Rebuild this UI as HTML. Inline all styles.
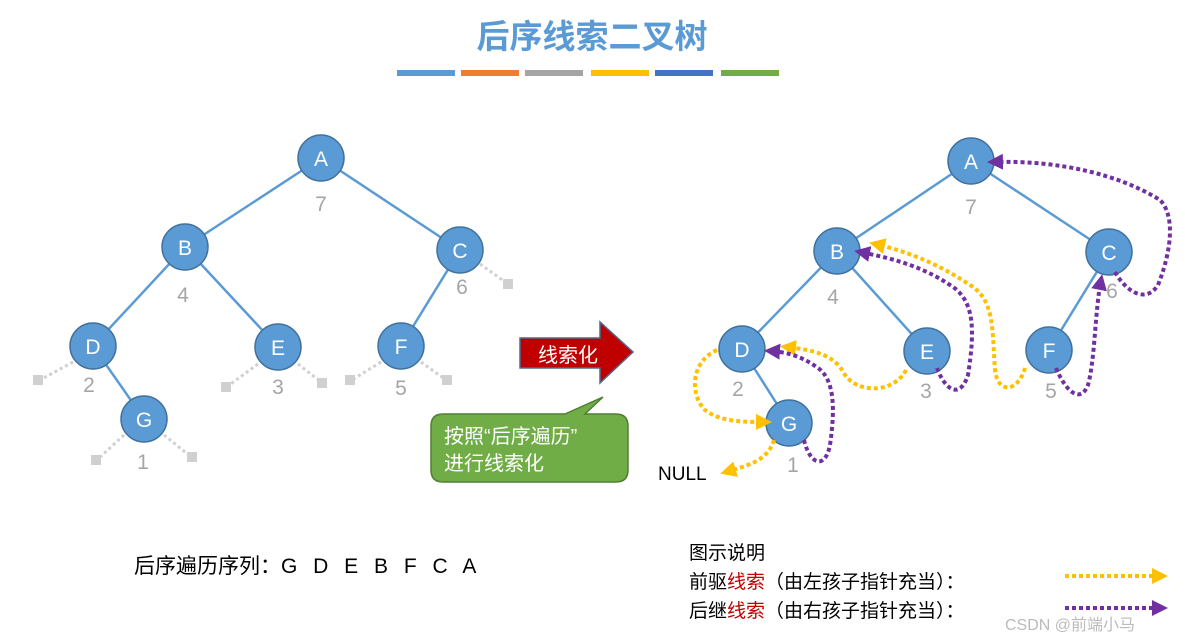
<!DOCTYPE html>
<html><head><meta charset="utf-8"><style>
body{margin:0;background:#fff;width:1185px;height:644px;overflow:hidden;font-family:"Liberation Sans","Noto Sans CJK SC",sans-serif;}
</style></head><body>
<svg width="1185" height="644" xmlns="http://www.w3.org/2000/svg" style="position:absolute;left:0;top:0">
<defs>
<marker id="py" markerWidth="4" markerHeight="4" refX="2.5" refY="2" orient="auto" markerUnits="strokeWidth"><path d="M0,0L4,2L0,4Z" fill="#FFC000"/></marker>
<marker id="pp" markerWidth="4" markerHeight="4" refX="2.5" refY="2" orient="auto" markerUnits="strokeWidth"><path d="M0,0L4,2L0,4Z" fill="#7030A0"/></marker>
</defs>
<text x="592" y="48" font-size="33" font-weight="bold" fill="#5B9BD5" text-anchor="middle" font-family="Liberation Sans,Noto Sans CJK SC,sans-serif">后序线索二叉树</text>
<g stroke-width="6">
<line x1="397" y1="73" x2="455" y2="73" stroke="#5B9BD5"/><line x1="461" y1="73" x2="519" y2="73" stroke="#ED7D31"/>
<line x1="525" y1="73" x2="583" y2="73" stroke="#A5A5A5"/><line x1="591" y1="73" x2="649" y2="73" stroke="#FFC000"/>
<line x1="655" y1="73" x2="713" y2="73" stroke="#4472C4"/><line x1="721" y1="73" x2="779" y2="73" stroke="#70AD47"/>
</g>
<g stroke="#D0D0D0" stroke-width="3" stroke-dasharray="3,3">
<line x1="480" y1="264" x2="508" y2="284"/><line x1="73" y1="362" x2="40" y2="380"/>
<line x1="258" y1="364" x2="228" y2="386"/><line x1="298" y1="364" x2="321" y2="382"/>
<line x1="381" y1="362" x2="352" y2="380"/><line x1="421" y1="362" x2="446" y2="380"/>
<line x1="124" y1="435" x2="98" y2="459"/><line x1="164" y1="435" x2="190" y2="456"/>
</g>
<g fill="#D0D0D0"><rect x="503" y="279" width="10" height="10"/><rect x="33" y="375" width="10" height="10"/><rect x="221" y="382" width="10" height="10"/><rect x="317" y="378" width="10" height="10"/><rect x="345" y="375" width="10" height="10"/><rect x="442" y="375" width="10" height="10"/><rect x="91" y="455" width="10" height="10"/><rect x="187" y="452" width="10" height="10"/></g>
<g stroke="#5B9BD5" stroke-width="2.5">
<line x1="321" y1="158" x2="185" y2="247"/><line x1="321" y1="158" x2="460" y2="250"/>
<line x1="185" y1="247" x2="93" y2="346"/><line x1="185" y1="247" x2="278" y2="347"/>
<line x1="460" y1="250" x2="401" y2="346"/><line x1="93" y1="346" x2="144" y2="419"/>
<line x1="971" y1="161" x2="837" y2="251"/><line x1="971" y1="161" x2="1109" y2="252"/>
<line x1="837" y1="251" x2="742" y2="349"/><line x1="837" y1="251" x2="927" y2="351"/>
<line x1="1109" y1="252" x2="1049" y2="350"/><line x1="742" y1="349" x2="789" y2="423"/>
</g>
<g fill="#5B9BD5" stroke="#41719C" stroke-width="1.5">
<circle cx="321" cy="158" r="23"/><circle cx="185" cy="247" r="23"/><circle cx="460" cy="250" r="23"/>
<circle cx="93" cy="346" r="23"/><circle cx="278" cy="347" r="23"/><circle cx="401" cy="346" r="23"/><circle cx="144" cy="419" r="23"/>
<circle cx="971" cy="161" r="23"/><circle cx="837" cy="251" r="23"/><circle cx="1109" cy="252" r="23"/>
<circle cx="742" cy="349" r="23"/><circle cx="927" cy="351" r="23"/><circle cx="1049" cy="350" r="23"/><circle cx="789" cy="423" r="23"/>
</g>
<g fill="#fff" font-size="21" text-anchor="middle">
<text x="321" y="166">A</text><text x="185" y="255">B</text><text x="460" y="258">C</text><text x="93" y="354">D</text><text x="278" y="355">E</text><text x="401" y="354">F</text><text x="144" y="427">G</text>
<text x="971" y="169">A</text><text x="837" y="259">B</text><text x="1109" y="260">C</text><text x="742" y="357">D</text><text x="927" y="359">E</text><text x="1049" y="358">F</text><text x="789" y="431">G</text>
</g>
<g fill="#A5A5A5" font-size="21" text-anchor="middle">
<text x="321" y="211">7</text><text x="183" y="302">4</text><text x="462" y="294">6</text><text x="89" y="392">2</text><text x="278" y="394">3</text><text x="401" y="395">5</text><text x="143" y="469">1</text>
<text x="971" y="214">7</text><text x="833" y="304">4</text><text x="1112" y="298">6</text><text x="738" y="396">2</text><text x="926" y="398">3</text><text x="1051" y="398">5</text><text x="793" y="472">1</text>
</g>
<path d="M520,338H600V322L633,352L600,383V368H520Z" fill="#C00000" stroke="#4F6A8F" stroke-width="1.5"/>
<text x="568" y="362" fill="#fff" font-size="20" text-anchor="middle">线索化</text>
<path d="M443,414H565L603,397L585,414H616Q628,414 628,426V470Q628,482 616,482H443Q431,482 431,470V426Q431,414 443,414Z" fill="#70AD47" stroke="#507E32" stroke-width="1.5"/>
<text x="444" y="443" fill="#fff" font-size="20">按照“后序遍历”</text>
<text x="444" y="470" fill="#fff" font-size="20">进行线索化</text>
<g fill="none" stroke-width="4" stroke-dasharray="4,3">
<path d="M1115,272C1125,290 1145,305 1158,285C1172,250 1175,215 1160,200C1120,175 1060,160 993,162" stroke="#7030A0" marker-end="url(#pp)"/>
<path d="M1056,368C1065,390 1080,405 1088,385C1095,360 1095,310 1101,280" stroke="#7030A0" marker-end="url(#pp)"/>
<path d="M937,368C945,390 960,400 968,375C975,330 975,300 950,285C920,265 890,258 860,252" stroke="#7030A0" marker-end="url(#pp)"/>
<path d="M1025,368C1018,392 998,395 995,370C992,330 995,300 970,285C940,265 910,252 875,244" stroke="#FFC000" marker-end="url(#py)"/>
<path d="M906,370C895,392 860,395 845,375C835,355 815,350 786,347" stroke="#FFC000" marker-end="url(#py)"/>
<path d="M804,440C810,465 825,470 830,445C835,410 835,380 818,368C800,355 785,352 770,351" stroke="#7030A0" marker-end="url(#pp)"/>
<path d="M717,350C690,362 690,395 705,410C720,422 745,422 766,422" stroke="#FFC000" marker-end="url(#py)"/>
<path d="M774,440C768,460 750,465 726,472" stroke="#FFC000" marker-end="url(#py)"/>
<path d="M1065,576H1162" stroke="#FFC000" marker-end="url(#py)"/>
<path d="M1065,608H1162" stroke="#7030A0" marker-end="url(#pp)"/>
</g>
<text x="658" y="480" font-size="19" fill="#000">NULL</text>
<text x="134" y="573" font-size="21" fill="#000">后序遍历序列：<tspan letter-spacing="5">G D E B F C A</tspan></text>
<g font-size="19" fill="#000">
<text x="689" y="559">图示说明</text>
<text x="689" y="588">前驱<tspan fill="#C00000">线索</tspan>（由左孩子指针充当）：</text>
<text x="689" y="617">后继<tspan fill="#C00000">线索</tspan>（由右孩子指针充当）：</text>
</g>
<text x="1005" y="630" font-size="16" fill="#BBBBBB">CSDN @前端小马</text>
</svg>
</body></html>
